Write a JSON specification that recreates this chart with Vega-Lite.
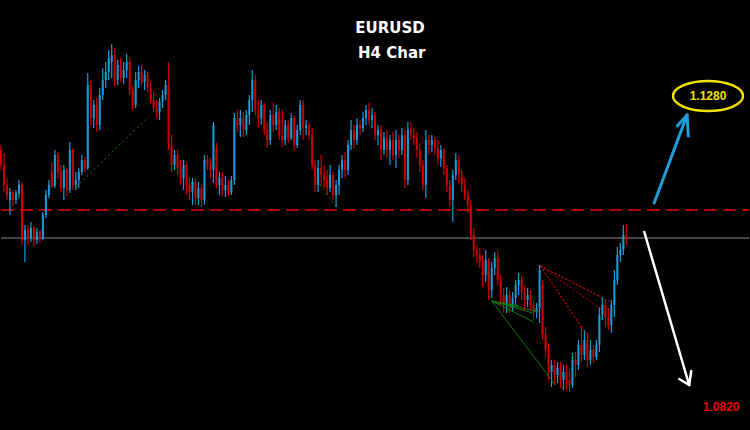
{
"$schema":"https://vega.github.io/schema/vega-lite/v6.json",
"width":750,"height":430,
"autosize":{"type":"fit","contains":"padding"},
"padding":0,
"background":"#000000",
"config":{"view":{"stroke":null},"font":"Liberation Sans"},
"datasets":{
"candles":[
{"i":0,"o":1.1150,"h":1.1155,"l":1.1130,"c":1.1135},
{"i":1,"o":1.1135,"h":1.1147,"l":1.1108,"c":1.1115},
{"i":2,"o":1.1115,"h":1.1122,"l":1.1100,"c":1.1105},
{"i":3,"o":1.1100,"h":1.1112,"l":1.1085,"c":1.1108},
{"i":4,"o":1.1108,"h":1.1110,"l":1.1094,"c":1.1100},
{"i":5,"o":1.1100,"h":1.1110,"l":1.1096,"c":1.1107},
{"i":6,"o":1.1107,"h":1.1120,"l":1.1102,"c":1.1115},
{"i":7,"o":1.1115,"h":1.1118,"l":1.1055,"c":1.1060},
{"i":8,"o":1.1060,"h":1.1075,"l":1.1038,"c":1.1070},
{"i":9,"o":1.1070,"h":1.1075,"l":1.1055,"c":1.1062},
{"i":10,"o":1.1062,"h":1.1078,"l":1.1058,"c":1.1072},
{"i":11,"o":1.1072,"h":1.1074,"l":1.1054,"c":1.1060},
{"i":12,"o":1.1060,"h":1.1072,"l":1.1056,"c":1.1068},
{"i":13,"o":1.1068,"h":1.1070,"l":1.1057,"c":1.1062},
{"i":14,"o":1.1062,"h":1.1088,"l":1.1060,"c":1.1085},
{"i":15,"o":1.1085,"h":1.1110,"l":1.1082,"c":1.1105},
{"i":16,"o":1.1105,"h":1.1120,"l":1.1102,"c":1.1115},
{"i":17,"o":1.1128,"h":1.1137,"l":1.1112,"c":1.1114},
{"i":18,"o":1.1114,"h":1.1150,"l":1.1112,"c":1.1145},
{"i":19,"o":1.1145,"h":1.1148,"l":1.1122,"c":1.1128},
{"i":20,"o":1.1128,"h":1.1135,"l":1.1108,"c":1.1112},
{"i":21,"o":1.1112,"h":1.1135,"l":1.1100,"c":1.1130},
{"i":22,"o":1.1130,"h":1.1132,"l":1.1104,"c":1.1110},
{"i":23,"o":1.1110,"h":1.1158,"l":1.1107,"c":1.1150},
{"i":24,"o":1.1150,"h":1.1152,"l":1.1110,"c":1.1115},
{"i":25,"o":1.1115,"h":1.1128,"l":1.1110,"c":1.1120},
{"i":26,"o":1.1120,"h":1.1132,"l":1.1112,"c":1.1128},
{"i":27,"o":1.1128,"h":1.1145,"l":1.1125,"c":1.1140},
{"i":28,"o":1.1140,"h":1.1143,"l":1.1128,"c":1.1132},
{"i":29,"o":1.1132,"h":1.1227,"l":1.1130,"c":1.1215},
{"i":30,"o":1.1215,"h":1.1220,"l":1.1175,"c":1.1182},
{"i":31,"o":1.1182,"h":1.1200,"l":1.1172,"c":1.1195},
{"i":32,"o":1.1195,"h":1.1202,"l":1.1168,"c":1.1175},
{"i":33,"o":1.1175,"h":1.1212,"l":1.1170,"c":1.1205},
{"i":34,"o":1.1205,"h":1.1232,"l":1.1200,"c":1.1220},
{"i":35,"o":1.1220,"h":1.1238,"l":1.1212,"c":1.1228},
{"i":36,"o":1.1228,"h":1.1250,"l":1.1220,"c":1.1242},
{"i":37,"o":1.1238,"h":1.1256,"l":1.1222,"c":1.1245},
{"i":38,"o":1.1245,"h":1.1252,"l":1.1214,"c":1.1220},
{"i":39,"o":1.1220,"h":1.1240,"l":1.1215,"c":1.1235},
{"i":40,"o":1.1235,"h":1.1242,"l":1.1218,"c":1.1222},
{"i":41,"o":1.1222,"h":1.1238,"l":1.1216,"c":1.1230},
{"i":42,"o":1.1230,"h":1.1246,"l":1.1222,"c":1.1238},
{"i":43,"o":1.1238,"h":1.1242,"l":1.1205,"c":1.1210},
{"i":44,"o":1.1210,"h":1.1215,"l":1.1190,"c":1.1195},
{"i":45,"o":1.1195,"h":1.1228,"l":1.1192,"c":1.1220},
{"i":46,"o":1.1220,"h":1.1234,"l":1.1212,"c":1.1228},
{"i":47,"o":1.1228,"h":1.1235,"l":1.1215,"c":1.1218},
{"i":48,"o":1.1218,"h":1.1230,"l":1.1210,"c":1.1225},
{"i":49,"o":1.1225,"h":1.1228,"l":1.1208,"c":1.1212},
{"i":50,"o":1.1212,"h":1.1218,"l":1.1196,"c":1.1200},
{"i":51,"o":1.1200,"h":1.1208,"l":1.1188,"c":1.1192},
{"i":52,"o":1.1192,"h":1.1200,"l":1.1182,"c":1.1188},
{"i":53,"o":1.1188,"h":1.1202,"l":1.1180,"c":1.1198},
{"i":54,"o":1.1198,"h":1.1210,"l":1.1192,"c":1.1205},
{"i":55,"o":1.1205,"h":1.1220,"l":1.1200,"c":1.1215},
{"i":56,"o":1.1215,"h":1.1238,"l":1.1150,"c":1.1155},
{"i":57,"o":1.1155,"h":1.1165,"l":1.1128,"c":1.1135},
{"i":58,"o":1.1135,"h":1.1150,"l":1.1130,"c":1.1145},
{"i":59,"o":1.1145,"h":1.1150,"l":1.1125,"c":1.1132},
{"i":60,"o":1.1132,"h":1.1140,"l":1.1115,"c":1.1122},
{"i":61,"o":1.1122,"h":1.1140,"l":1.1110,"c":1.1135},
{"i":62,"o":1.1135,"h":1.1138,"l":1.1105,"c":1.1115},
{"i":63,"o":1.1115,"h":1.1122,"l":1.1100,"c":1.1108},
{"i":64,"o":1.1108,"h":1.1122,"l":1.1095,"c":1.1118},
{"i":65,"o":1.1118,"h":1.1122,"l":1.1095,"c":1.1102},
{"i":66,"o":1.1102,"h":1.1118,"l":1.1095,"c":1.1112},
{"i":67,"o":1.1112,"h":1.1116,"l":1.1093,"c":1.1100},
{"i":68,"o":1.1100,"h":1.1145,"l":1.1095,"c":1.1140},
{"i":69,"o":1.1140,"h":1.1145,"l":1.1130,"c":1.1135},
{"i":70,"o":1.1135,"h":1.1142,"l":1.1122,"c":1.1130},
{"i":71,"o":1.1130,"h":1.1178,"l":1.1117,"c":1.1175},
{"i":72,"o":1.1152,"h":1.1157,"l":1.1112,"c":1.1115},
{"i":73,"o":1.1115,"h":1.1128,"l":1.1105,"c":1.1122},
{"i":74,"o":1.1122,"h":1.1128,"l":1.1104,"c":1.1110},
{"i":75,"o":1.1110,"h":1.1124,"l":1.1103,"c":1.1115},
{"i":76,"o":1.1115,"h":1.1120,"l":1.1104,"c":1.1108},
{"i":77,"o":1.1108,"h":1.1124,"l":1.1105,"c":1.1120},
{"i":78,"o":1.1120,"h":1.1187,"l":1.1115,"c":1.1182},
{"i":79,"o":1.1182,"h":1.1190,"l":1.1168,"c":1.1175},
{"i":80,"o":1.1175,"h":1.1190,"l":1.1163,"c":1.1182},
{"i":81,"o":1.1182,"h":1.1188,"l":1.1163,"c":1.1170},
{"i":82,"o":1.1170,"h":1.1190,"l":1.1165,"c":1.1185},
{"i":83,"o":1.1185,"h":1.1205,"l":1.1175,"c":1.1200},
{"i":84,"o":1.1200,"h":1.1230,"l":1.1188,"c":1.1220},
{"i":85,"o":1.1220,"h":1.1225,"l":1.1185,"c":1.1190},
{"i":86,"o":1.1190,"h":1.1200,"l":1.1173,"c":1.1182},
{"i":87,"o":1.1182,"h":1.1200,"l":1.1175,"c":1.1195},
{"i":88,"o":1.1195,"h":1.1197,"l":1.1165,"c":1.1170},
{"i":89,"o":1.1170,"h":1.1178,"l":1.1152,"c":1.1160},
{"i":90,"o":1.1160,"h":1.1190,"l":1.1155,"c":1.1185},
{"i":91,"o":1.1185,"h":1.1197,"l":1.1168,"c":1.1175},
{"i":92,"o":1.1175,"h":1.1195,"l":1.1170,"c":1.1188},
{"i":93,"o":1.1188,"h":1.1192,"l":1.1160,"c":1.1165},
{"i":94,"o":1.1165,"h":1.1190,"l":1.1153,"c":1.1160},
{"i":95,"o":1.1160,"h":1.1180,"l":1.1155,"c":1.1175},
{"i":96,"o":1.1175,"h":1.1180,"l":1.1157,"c":1.1162},
{"i":97,"o":1.1162,"h":1.1187,"l":1.1160,"c":1.1182},
{"i":98,"o":1.1182,"h":1.1185,"l":1.1150,"c":1.1155},
{"i":99,"o":1.1155,"h":1.1175,"l":1.1152,"c":1.1170},
{"i":100,"o":1.1170,"h":1.1200,"l":1.1165,"c":1.1195},
{"i":101,"o":1.1195,"h":1.1200,"l":1.1160,"c":1.1172},
{"i":102,"o":1.1172,"h":1.1180,"l":1.1165,"c":1.1175},
{"i":103,"o":1.1175,"h":1.1178,"l":1.1160,"c":1.1165},
{"i":104,"o":1.1165,"h":1.1172,"l":1.1130,"c":1.1135},
{"i":105,"o":1.1135,"h":1.1140,"l":1.1108,"c":1.1115},
{"i":106,"o":1.1115,"h":1.1140,"l":1.1108,"c":1.1132},
{"i":107,"o":1.1132,"h":1.1145,"l":1.1115,"c":1.1125},
{"i":108,"o":1.1125,"h":1.1135,"l":1.1112,"c":1.1120},
{"i":109,"o":1.1120,"h":1.1130,"l":1.1105,"c":1.1112},
{"i":110,"o":1.1112,"h":1.1135,"l":1.1108,"c":1.1125},
{"i":111,"o":1.1125,"h":1.1128,"l":1.1100,"c":1.1105},
{"i":112,"o":1.1105,"h":1.1120,"l":1.1093,"c":1.1115},
{"i":113,"o":1.1115,"h":1.1135,"l":1.1105,"c":1.1130},
{"i":114,"o":1.1130,"h":1.1145,"l":1.1122,"c":1.1140},
{"i":115,"o":1.1140,"h":1.1148,"l":1.1122,"c":1.1130},
{"i":116,"o":1.1130,"h":1.1160,"l":1.1125,"c":1.1155},
{"i":117,"o":1.1155,"h":1.1180,"l":1.1150,"c":1.1170},
{"i":118,"o":1.1170,"h":1.1175,"l":1.1152,"c":1.1160},
{"i":119,"o":1.1160,"h":1.1182,"l":1.1155,"c":1.1175},
{"i":120,"o":1.1175,"h":1.1180,"l":1.1165,"c":1.1172},
{"i":121,"o":1.1172,"h":1.1188,"l":1.1168,"c":1.1182},
{"i":122,"o":1.1182,"h":1.1195,"l":1.1175,"c":1.1190},
{"i":123,"o":1.1190,"h":1.1197,"l":1.1175,"c":1.1180},
{"i":124,"o":1.1180,"h":1.1192,"l":1.1172,"c":1.1185},
{"i":125,"o":1.1185,"h":1.1188,"l":1.1160,"c":1.1165},
{"i":126,"o":1.1165,"h":1.1175,"l":1.1155,"c":1.1170},
{"i":127,"o":1.1170,"h":1.1175,"l":1.1140,"c":1.1150},
{"i":128,"o":1.1150,"h":1.1168,"l":1.1145,"c":1.1162},
{"i":129,"o":1.1162,"h":1.1170,"l":1.1142,"c":1.1150},
{"i":130,"o":1.1150,"h":1.1165,"l":1.1135,"c":1.1160},
{"i":131,"o":1.1160,"h":1.1168,"l":1.1140,"c":1.1145},
{"i":132,"o":1.1145,"h":1.1170,"l":1.1132,"c":1.1160},
{"i":133,"o":1.1160,"h":1.1165,"l":1.1142,"c":1.1150},
{"i":134,"o":1.1150,"h":1.1172,"l":1.1145,"c":1.1165},
{"i":135,"o":1.1165,"h":1.1170,"l":1.1112,"c":1.1120},
{"i":136,"o":1.1120,"h":1.1178,"l":1.1115,"c":1.1170},
{"i":137,"o":1.1170,"h":1.1178,"l":1.1160,"c":1.1165},
{"i":138,"o":1.1165,"h":1.1172,"l":1.1155,"c":1.1162},
{"i":139,"o":1.1162,"h":1.1168,"l":1.1142,"c":1.1150},
{"i":140,"o":1.1150,"h":1.1157,"l":1.1128,"c":1.1135},
{"i":141,"o":1.1135,"h":1.1140,"l":1.1110,"c":1.1115},
{"i":142,"o":1.1115,"h":1.1170,"l":1.1102,"c":1.1160},
{"i":143,"o":1.1160,"h":1.1165,"l":1.1145,"c":1.1155},
{"i":144,"o":1.1155,"h":1.1165,"l":1.1148,"c":1.1160},
{"i":145,"o":1.1160,"h":1.1163,"l":1.1145,"c":1.1152},
{"i":146,"o":1.1152,"h":1.1160,"l":1.1135,"c":1.1142},
{"i":147,"o":1.1142,"h":1.1155,"l":1.1133,"c":1.1150},
{"i":148,"o":1.1150,"h":1.1152,"l":1.1125,"c":1.1132},
{"i":149,"o":1.1132,"h":1.1135,"l":1.1108,"c":1.1115},
{"i":150,"o":1.1115,"h":1.1120,"l":1.1093,"c":1.1100},
{"i":151,"o":1.1100,"h":1.1130,"l":1.1078,"c":1.1125},
{"i":152,"o":1.1125,"h":1.1147,"l":1.1120,"c":1.1140},
{"i":153,"o":1.1140,"h":1.1145,"l":1.1117,"c":1.1125},
{"i":154,"o":1.1125,"h":1.1130,"l":1.1108,"c":1.1115},
{"i":155,"o":1.1115,"h":1.1122,"l":1.1100,"c":1.1105},
{"i":156,"o":1.1105,"h":1.1110,"l":1.1087,"c":1.1095},
{"i":157,"o":1.1095,"h":1.1100,"l":1.1060,"c":1.1065},
{"i":158,"o":1.1065,"h":1.1072,"l":1.1043,"c":1.1050},
{"i":159,"o":1.1050,"h":1.1055,"l":1.1037,"c":1.1045},
{"i":160,"o":1.1045,"h":1.1052,"l":1.1032,"c":1.1038},
{"i":161,"o":1.1038,"h":1.1045,"l":1.1013,"c":1.1025},
{"i":162,"o":1.1025,"h":1.1050,"l":1.1018,"c":1.1040},
{"i":163,"o":1.1040,"h":1.1042,"l":1.1000,"c":1.1010},
{"i":164,"o":1.1010,"h":1.1038,"l":1.1002,"c":1.1032},
{"i":165,"o":1.1032,"h":1.1048,"l":1.1025,"c":1.1042},
{"i":166,"o":1.1042,"h":1.1048,"l":1.1015,"c":1.1020},
{"i":167,"o":1.1020,"h":1.1025,"l":1.0995,"c":1.1005},
{"i":168,"o":1.1005,"h":1.1012,"l":1.0987,"c":1.0995},
{"i":169,"o":1.0995,"h":1.1013,"l":1.0987,"c":1.1005},
{"i":170,"o":1.1005,"h":1.1010,"l":1.0987,"c":1.0992},
{"i":171,"o":1.0992,"h":1.1008,"l":1.0988,"c":1.1002},
{"i":172,"o":1.1002,"h":1.1020,"l":1.0995,"c":1.1015},
{"i":173,"o":1.1015,"h":1.1027,"l":1.1005,"c":1.1020},
{"i":174,"o":1.1020,"h":1.1024,"l":1.1000,"c":1.1008},
{"i":175,"o":1.1008,"h":1.1015,"l":1.0990,"c":1.1000},
{"i":176,"o":1.1000,"h":1.1012,"l":1.0993,"c":1.1005},
{"i":177,"o":1.1005,"h":1.1010,"l":1.0990,"c":1.0995},
{"i":178,"o":1.0995,"h":1.1000,"l":1.0983,"c":1.0988},
{"i":179,"o":1.0988,"h":1.0997,"l":1.0982,"c":1.0992},
{"i":180,"o":1.0992,"h":1.1035,"l":1.0977,"c":1.1030},
{"i":181,"o":1.1015,"h":1.1020,"l":1.0960,"c":1.0965},
{"i":182,"o":1.0965,"h":1.0973,"l":1.0943,"c":1.0950},
{"i":183,"o":1.0950,"h":1.0957,"l":1.0920,"c":1.0928},
{"i":184,"o":1.0928,"h":1.0940,"l":1.0913,"c":1.0935},
{"i":185,"o":1.0935,"h":1.0940,"l":1.0915,"c":1.0925},
{"i":186,"o":1.0925,"h":1.0938,"l":1.0917,"c":1.0932},
{"i":187,"o":1.0932,"h":1.0938,"l":1.0912,"c":1.0920},
{"i":188,"o":1.0920,"h":1.0935,"l":1.0910,"c":1.0928},
{"i":189,"o":1.0928,"h":1.0935,"l":1.0910,"c":1.0920},
{"i":190,"o":1.0920,"h":1.0930,"l":1.0908,"c":1.0915},
{"i":191,"o":1.0915,"h":1.0947,"l":1.0912,"c":1.0940},
{"i":192,"o":1.0940,"h":1.0948,"l":1.0923,"c":1.0935},
{"i":193,"o":1.0935,"h":1.0960,"l":1.0930,"c":1.0955},
{"i":194,"o":1.0955,"h":1.0973,"l":1.0938,"c":1.0945},
{"i":195,"o":1.0945,"h":1.0970,"l":1.0940,"c":1.0960},
{"i":196,"o":1.0960,"h":1.0967,"l":1.0933,"c":1.0940},
{"i":197,"o":1.0940,"h":1.0960,"l":1.0935,"c":1.0950},
{"i":198,"o":1.0950,"h":1.0955,"l":1.0937,"c":1.0943},
{"i":199,"o":1.0943,"h":1.0960,"l":1.0940,"c":1.0955},
{"i":200,"o":1.0955,"h":1.0993,"l":1.0948,"c":1.0985},
{"i":201,"o":1.0985,"h":1.1003,"l":1.0980,"c":1.0995},
{"i":202,"o":1.0995,"h":1.1000,"l":1.0973,"c":1.0982},
{"i":203,"o":1.0982,"h":1.0992,"l":1.0970,"c":1.0975},
{"i":204,"o":1.0975,"h":1.1000,"l":1.0967,"c":1.0995},
{"i":205,"o":1.0995,"h":1.1030,"l":1.0983,"c":1.1020},
{"i":206,"o":1.1020,"h":1.1053,"l":1.1015,"c":1.1045},
{"i":207,"o":1.1045,"h":1.1057,"l":1.1038,"c":1.1050},
{"i":208,"o":1.1050,"h":1.1075,"l":1.1045,"c":1.1065},
{"i":209,"o":1.1065,"h":1.1076,"l":1.1055,"c":1.1060}
],
"segs":[
{"g":"res","x1":0,"y1":1.1090,"x2":250,"y2":1.1090},
{"g":"price","x1":0,"y1":1.1062,"x2":250,"y2":1.1062},
{"g":"gdot","x1":25,"y1":1.1113,"x2":49.3,"y2":1.1183},
{"g":"gdot","x1":106.7,"y1":1.1115,"x2":112,"y2":1.1093},
{"g":"gfan","x1":164,"y1":1.0999,"x2":173.3,"y2":1.0994},
{"g":"gfan","x1":164,"y1":1.0999,"x2":177.7,"y2":1.0987},
{"g":"gfan","x1":164,"y1":1.0999,"x2":178,"y2":1.0978},
{"g":"gfan","x1":164,"y1":1.0999,"x2":180,"y2":1.0988},
{"g":"gfan","x1":164,"y1":1.0999,"x2":185.3,"y2":1.0915},
{"g":"rfan","x1":180.3,"y1":1.1034,"x2":200.7,"y2":1.1003},
{"g":"rfan","x1":180.3,"y1":1.1034,"x2":204.3,"y2":1.0997},
{"g":"rfan","x1":180.3,"y1":1.1034,"x2":201,"y2":1.0990},
{"g":"rfan","x1":180.3,"y1":1.1034,"x2":194,"y2":1.0973},
{"g":"rfan","x1":180.3,"y1":1.1034,"x2":196.7,"y2":1.0961},
{"g":"up","x1":218.3,"y1":1.1097,"x2":229.3,"y2":1.1185},
{"g":"up","x1":226,"y1":1.1174,"x2":229.3,"y2":1.1185},
{"g":"up","x1":229.7,"y1":1.1164,"x2":229.3,"y2":1.1185},
{"g":"down","x1":215,"y1":1.1068,"x2":230,"y2":1.0915},
{"g":"down","x1":226.7,"y1":1.0921,"x2":230,"y2":1.0915},
{"g":"down","x1":230.7,"y1":1.0929,"x2":230,"y2":1.0915}
],
"labels":[
{"k":"title","x":130,"y":1.1272,"t":"EURUSD"},
{"k":"title","x":130.6,"y":1.1247,"t":"H4 Char"},
{"k":"target","x":236.3,"y":1.1204,"t":"1.1280"},
{"k":"low","x":240.7,"y":1.0893,"t":"1.0820"}
]
},
"encoding":{
"x":{"field":"i","type":"quantitative","scale":{"domain":[0,250],"nice":false,"zero":false},"axis":null},
"y":{"field":"l","type":"quantitative","scale":{"domain":[1.087,1.13],"nice":false,"zero":false},"axis":null}
},
"layer":[
{"data":{"name":"segs"},"transform":[{"filter":"datum.g=='res'"}],"mark":{"type":"rule","color":"#b00000","strokeWidth":2,"strokeDash":[13,6]},"encoding":{"x":{"field":"x1","type":"quantitative"},"y":{"field":"y1","type":"quantitative"},"x2":{"field":"x2"},"y2":{"field":"y2"}}},
{"data":{"name":"segs"},"transform":[{"filter":"datum.g=='price'"}],"mark":{"type":"rule","color":"#7f8c99","strokeWidth":1},"encoding":{"x":{"field":"x1","type":"quantitative"},"y":{"field":"y1","type":"quantitative"},"x2":{"field":"x2"},"y2":{"field":"y2"}}},
{"data":{"name":"candles"},"mark":{"type":"rule","strokeWidth":1.2},"encoding":{"y":{"field":"l","type":"quantitative"},"y2":{"field":"h"},"color":{"condition":{"test":"datum.c>=datum.o","value":"#1b9ad8"},"value":"#cc0000"}}},
{"data":{"name":"candles"},"mark":{"type":"rule","strokeWidth":2}, "encoding":{"y":{"field":"o","type":"quantitative"},"y2":{"field":"c"},"color":{"condition":{"test":"datum.c>=datum.o","value":"#1b9ad8"},"value":"#cc0000"}}},
{"data":{"name":"segs"},"transform":[{"filter":"datum.g=='gdot'"}],"mark":{"type":"rule","color":"#0a8a0a","strokeWidth":1,"strokeDash":[2,3]},"encoding":{"x":{"field":"x1","type":"quantitative"},"y":{"field":"y1","type":"quantitative"},"x2":{"field":"x2"},"y2":{"field":"y2"}}},
{"data":{"name":"segs"},"transform":[{"filter":"datum.g=='gfan'"}],"mark":{"type":"rule","color":"#0a7a0a","strokeWidth":1},"encoding":{"x":{"field":"x1","type":"quantitative"},"y":{"field":"y1","type":"quantitative"},"x2":{"field":"x2"},"y2":{"field":"y2"}}},
{"data":{"name":"segs"},"transform":[{"filter":"datum.g=='rfan'"}],"mark":{"type":"rule","color":"#d00000","strokeWidth":1,"strokeDash":[2,2]},"encoding":{"x":{"field":"x1","type":"quantitative"},"y":{"field":"y1","type":"quantitative"},"x2":{"field":"x2"},"y2":{"field":"y2"}}},
{"data":{"name":"segs"},"transform":[{"filter":"datum.g=='up'"}],"mark":{"type":"rule","color":"#1e9fdc","strokeWidth":3,"strokeCap":"round"},"encoding":{"x":{"field":"x1","type":"quantitative"},"y":{"field":"y1","type":"quantitative"},"x2":{"field":"x2"},"y2":{"field":"y2"}}},
{"data":{"name":"segs"},"transform":[{"filter":"datum.g=='down'"}],"mark":{"type":"rule","color":"#ffffff","strokeWidth":2.5,"strokeCap":"round"},"encoding":{"x":{"field":"x1","type":"quantitative"},"y":{"field":"y1","type":"quantitative"},"x2":{"field":"x2"},"y2":{"field":"y2"}}},
{"data":{"name":"labels"},"transform":[{"filter":"datum.k=='target'"}],"mark":{"type":"point","shape":"M-1,0A1,0.43,0,1,1,1,0A1,0.43,0,1,1,-1,0Z","size":4900,"filled":false,"stroke":"#f0e000","strokeWidth":2.5,"opacity":1},"encoding":{"x":{"field":"x","type":"quantitative"},"y":{"field":"y","type":"quantitative"}}},
{"data":{"name":"labels"},"transform":[{"filter":"datum.k=='target'"}],"mark":{"type":"text","color":"#f0e000","fontSize":12,"fontWeight":"bold","align":"center","baseline":"middle"},"encoding":{"x":{"field":"x","type":"quantitative"},"y":{"field":"y","type":"quantitative"},"text":{"field":"t"}}},
{"data":{"name":"labels"},"transform":[{"filter":"datum.k=='low'"}],"mark":{"type":"text","color":"#ee0000","fontSize":12,"fontWeight":"bold","align":"center","baseline":"middle"},"encoding":{"x":{"field":"x","type":"quantitative"},"y":{"field":"y","type":"quantitative"},"text":{"field":"t"}}},
{"data":{"name":"labels"},"transform":[{"filter":"datum.k=='title'"}],"mark":{"type":"text","color":"#ffffff","font":"DejaVu Sans","fontSize":15,"fontWeight":"bold","align":"center","baseline":"middle"},"encoding":{"x":{"field":"x","type":"quantitative"},"y":{"field":"y","type":"quantitative"},"text":{"field":"t"}}}
]
}
